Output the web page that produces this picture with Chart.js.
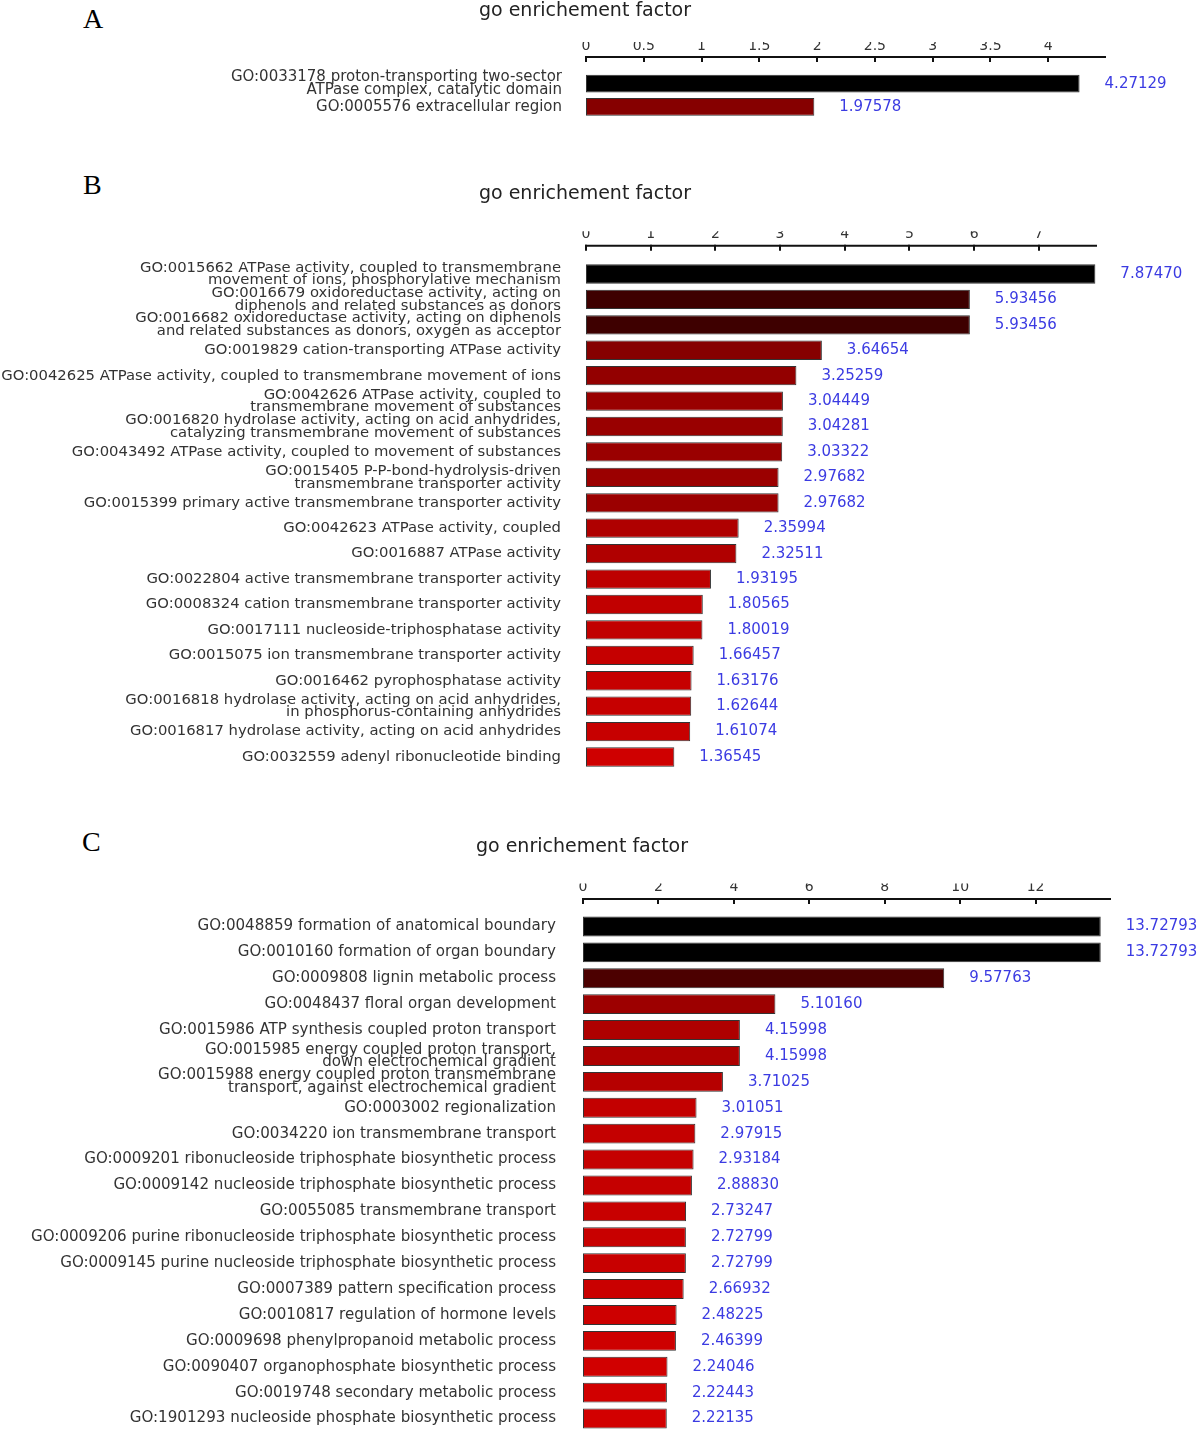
<!DOCTYPE html>
<html><head><meta charset="utf-8">
<script src="https://cdn.jsdelivr.net/npm/chart.js@4.4.1/dist/chart.umd.min.js"></script>
<style>
html,body{margin:0;padding:0;background:#fff;}
body{width:1200px;height:1434px;position:relative;overflow:hidden;}
canvas{position:absolute;left:0;}
.letter{position:absolute;font-family:"Liberation Serif","Times New Roman",serif;font-size:28px;color:#000;line-height:1;}
</style></head><body>
<div class="letter" style="left:83px;top:5px">A</div>
<div class="letter" style="left:83px;top:171px">B</div>
<div class="letter" style="left:82px;top:828px">C</div>
<canvas id="cA" width="1200" height="130" style="top:0px;width:1200px;height:130px"></canvas>
<canvas id="cB" width="1200" height="660" style="top:130px;width:1200px;height:660px"></canvas>
<canvas id="cC" width="1200" height="644" style="top:790px;width:1200px;height:644px"></canvas>
<script>
const titleText = "go enrichement factor";

const categoriesA = [
  ["GO:0033178 proton-transporting two-sector", "ATPase complex, catalytic domain"],
  "GO:0005576 extracellular region"
];
const valuesA = [4.27129, 1.97578];
const ticksA = [0, 0.5, 1, 1.5, 2, 2.5, 3, 3.5, 4];

const categoriesB = [
  ["GO:0015662 ATPase activity, coupled to transmembrane", "movement of ions, phosphorylative mechanism"],
  ["GO:0016679 oxidoreductase activity, acting on", "diphenols and related substances as donors"],
  ["GO:0016682 oxidoreductase activity, acting on diphenols", "and related substances as donors, oxygen as acceptor"],
  "GO:0019829 cation-transporting ATPase activity",
  "GO:0042625 ATPase activity, coupled to transmembrane movement of ions",
  ["GO:0042626 ATPase activity, coupled to", "transmembrane movement of substances"],
  ["GO:0016820 hydrolase activity, acting on acid anhydrides,", "catalyzing transmembrane movement of substances"],
  "GO:0043492 ATPase activity, coupled to movement of substances",
  ["GO:0015405 P-P-bond-hydrolysis-driven", "transmembrane transporter activity"],
  "GO:0015399 primary active transmembrane transporter activity",
  "GO:0042623 ATPase activity, coupled",
  "GO:0016887 ATPase activity",
  "GO:0022804 active transmembrane transporter activity",
  "GO:0008324 cation transmembrane transporter activity",
  "GO:0017111 nucleoside-triphosphatase activity",
  "GO:0015075 ion transmembrane transporter activity",
  "GO:0016462 pyrophosphatase activity",
  ["GO:0016818 hydrolase activity, acting on acid anhydrides,", "in phosphorus-containing anhydrides"],
  "GO:0016817 hydrolase activity, acting on acid anhydrides",
  "GO:0032559 adenyl ribonucleotide binding"
];
const valuesB = [7.87470, 5.93456, 5.93456, 3.64654, 3.25259, 3.04449, 3.04281, 3.03322, 2.97682, 2.97682,
                 2.35994, 2.32511, 1.93195, 1.80565, 1.80019, 1.66457, 1.63176, 1.62644, 1.61074, 1.36545];
const ticksB = [0, 1, 2, 3, 4, 5, 6, 7];

const categoriesC = [
  "GO:0048859 formation of anatomical boundary",
  "GO:0010160 formation of organ boundary",
  "GO:0009808 lignin metabolic process",
  "GO:0048437 floral organ development",
  "GO:0015986 ATP synthesis coupled proton transport",
  ["GO:0015985 energy coupled proton transport,", "down electrochemical gradient"],
  ["GO:0015988 energy coupled proton transmembrane", "transport, against electrochemical gradient"],
  "GO:0003002 regionalization",
  "GO:0034220 ion transmembrane transport",
  "GO:0009201 ribonucleoside triphosphate biosynthetic process",
  "GO:0009142 nucleoside triphosphate biosynthetic process",
  "GO:0055085 transmembrane transport",
  "GO:0009206 purine ribonucleoside triphosphate biosynthetic process",
  "GO:0009145 purine nucleoside triphosphate biosynthetic process",
  "GO:0007389 pattern specification process",
  "GO:0010817 regulation of hormone levels",
  "GO:0009698 phenylpropanoid metabolic process",
  "GO:0090407 organophosphate biosynthetic process",
  "GO:0019748 secondary metabolic process",
  "GO:1901293 nucleoside phosphate biosynthetic process"
];
const valuesC = [13.72793, 13.72793, 9.57763, 5.10160, 4.15998, 4.15998, 3.71025, 3.01051, 2.97915, 2.93184,
                 2.88830, 2.73247, 2.72799, 2.72799, 2.66932, 2.48225, 2.46399, 2.24046, 2.22443, 2.22135];
const ticksC = [0, 2, 4, 6, 8, 10, 12];

const FONT = 'DejaVu Sans';

function barColor(v, maxV) {
  const r = Math.round(250 * (1 - v / maxV));
  return 'rgb(' + r + ',0,0)';
}

const decoPlugin = {
  id: 'deco',
  afterDraw(chart, args, opts) {
    const ctx = chart.ctx;
    const area = chart.chartArea;
    const xs = chart.scales.x;
    const x0 = xs.getPixelForValue(0);
    const axisY = area.top - opts.gap;
    ctx.save();
    // title
    ctx.fillStyle = '#222';
    ctx.font = '19px "' + FONT + '"';
    ctx.textAlign = 'center';
    ctx.textBaseline = 'middle';
    ctx.fillText(opts.title, x0 - 1, opts.titleY);
    // axis line + ticks
    ctx.strokeStyle = '#111';
    ctx.lineWidth = 2;
    ctx.beginPath();
    ctx.moveTo(x0 - 1, axisY);
    ctx.lineTo(xs.right, axisY);
    ctx.stroke();
    xs.ticks.forEach(t => {
      const px = Math.round(xs.getPixelForValue(t.value));
      ctx.beginPath();
      ctx.moveTo(px, axisY - 1);
      ctx.lineTo(px, axisY + 5);
      ctx.stroke();
    });
    // value labels
    const meta = chart.getDatasetMeta(0);
    const data = chart.data.datasets[0].data;
    ctx.fillStyle = '#3b3be2';
    ctx.font = '15px "' + FONT + '"';
    ctx.textAlign = 'left';
    ctx.textBaseline = 'middle';
    meta.data.forEach((bar, i) => {
      ctx.fillText(data[i].toFixed(5), bar.x + 25, bar.y);
    });
    ctx.restore();
  }
};

function makeChart(id, labels, values, tickVals, L) {
  const maxV = Math.max.apply(null, values);
  return new Chart(document.getElementById(id), {
    type: 'bar',
    data: {
      labels: labels,
      datasets: [{
        data: values,
        backgroundColor: c => barColor(c.raw, maxV),
        borderColor: '#333',
        borderWidth: 1,
        borderSkipped: false,
        barPercentage: L.barPct,
        categoryPercentage: 1
      }]
    },
    options: {
      indexAxis: 'y',
      responsive: false,
      animation: false,
      devicePixelRatio: 1,
      layout: { padding: { left: 0, right: L.padRight, top: L.padTop, bottom: L.padBottom } },
      plugins: {
        legend: { display: false },
        tooltip: { enabled: false },
        deco: { gap: L.gap, title: titleText, titleY: L.titleY }
      },
      scales: {
        x: {
          position: 'top', min: 0, max: L.max,
          grid: { display: false, drawTicks: false },
          border: { display: false },
          afterBuildTicks: s => { s.ticks = tickVals.map(v => ({ value: v })); },
          afterFit: s => { s.height = L.xH; s.paddingLeft = 0; s.paddingRight = 0; },
          ticks: { padding: L.xPad, color: '#333', autoSkip: false, maxRotation: 0,
                   font: { family: FONT, size: 14 }, callback: v => String(v) }
        },
        y: {
          grid: { display: false, drawTicks: false },
          border: { display: false },
          afterFit: s => { s.width = L.x0; s.paddingTop = 0; s.paddingBottom = 0; },
          ticks: { padding: L.yPad, color: '#333', autoSkip: false,
                   font: { family: FONT, size: L.fs, lineHeight: 12.6 / L.fs } }
        }
      }
    },
    plugins: [decoPlugin]
  });
}

// Panel A: canvas top 0, height 130
makeChart('cA', categoriesA, valuesA, ticksA, {
  x0: 586, padRight: 1200 - 1106, max: 4.5,
  xH: 30, padTop: 72 - 30, padBottom: 130 - 118.5,
  gap: 15, xPad: 17.5, yPad: 24, titleY: 11, barPct: 0.76, fs: 15
});
// Panel B: canvas top 130, height 660
makeChart('cB', categoriesB, valuesB, ticksB, {
  x0: 586, padRight: 1200 - 1097, max: 7.9,
  xH: 30, padTop: 131.3 - 30, padBottom: 660 - 639.7,
  gap: 15.5, xPad: 19, yPad: 25, titleY: 194 - 130, barPct: 0.76, fs: 14.8
});
// Panel C: canvas top 790, height 644
makeChart('cC', categoriesC, valuesC, ticksC, {
  x0: 583, padRight: 1200 - 1111, max: 14,
  xH: 30, padTop: 123.5 - 30, padBottom: 644 - 641.5,
  gap: 14.5, xPad: 18.2, yPad: 27, titleY: 847 - 790, barPct: 0.77, fs: 15.1
});
</script>
</body></html>
